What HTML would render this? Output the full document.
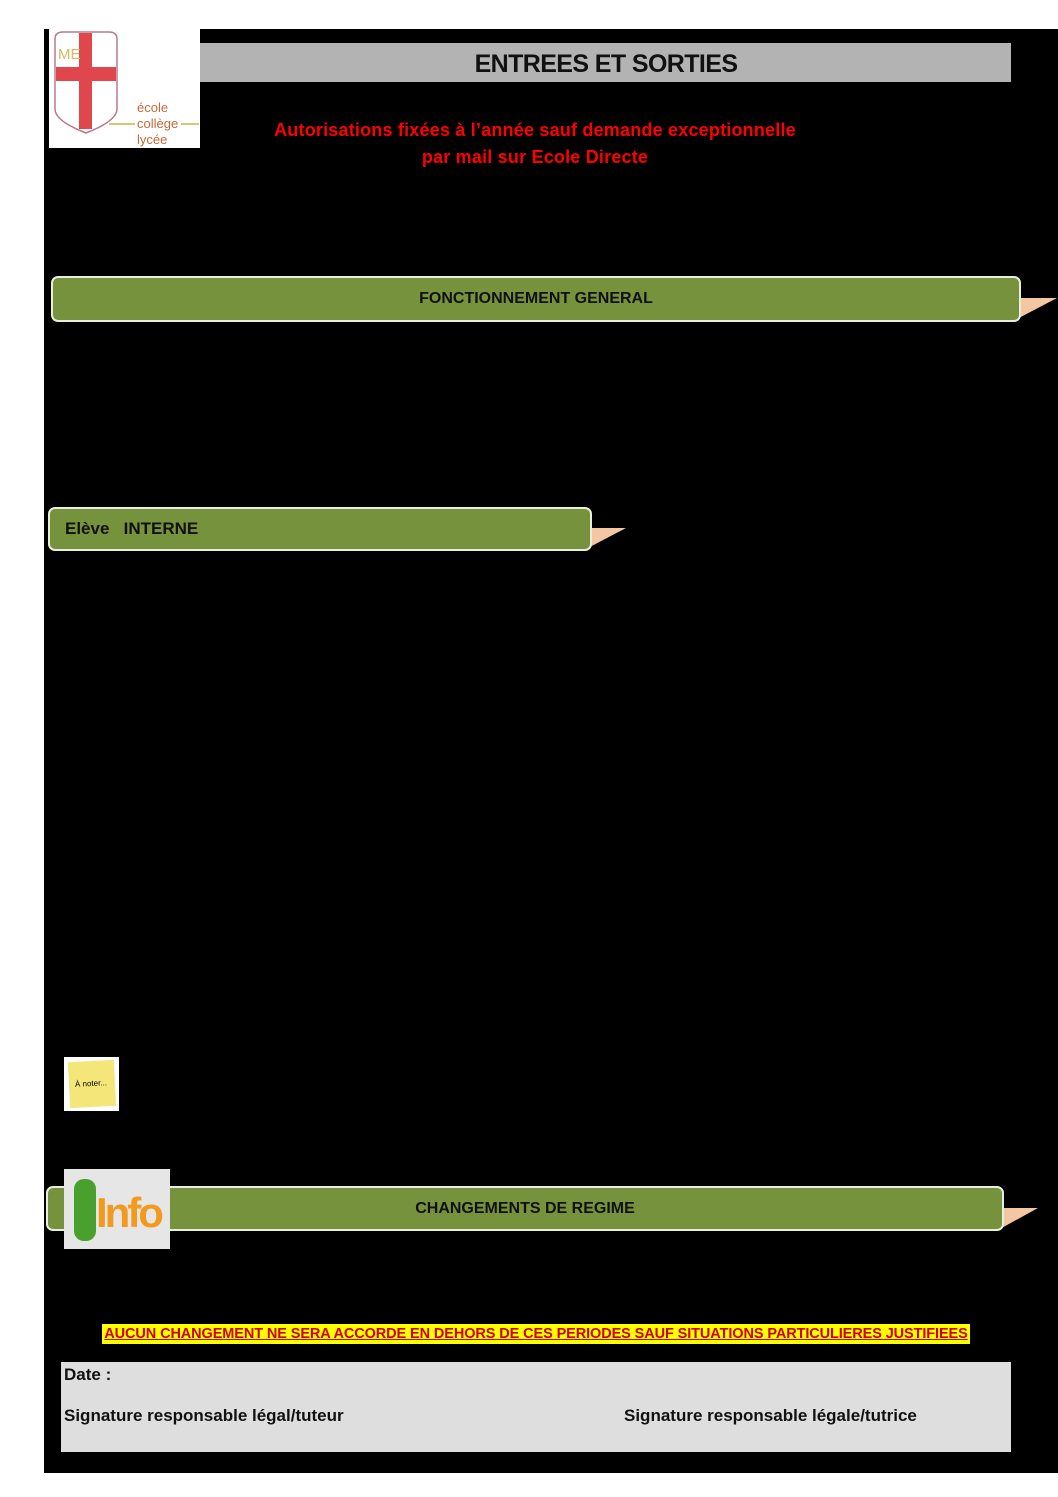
<!DOCTYPE html>
<html><head><meta charset="utf-8"><style>
body{margin:0;width:1058px;height:1497px;background:#fff;position:relative;overflow:hidden;font-family:"Liberation Sans",sans-serif}
div{position:absolute;box-sizing:border-box}
.bar{background:#76923c;border:2px solid #e8eedc;border-radius:7px;font-weight:bold;font-size:16px;color:#111;display:flex;align-items:center}
</style></head><body>
<div style="left:44px;top:29px;width:1014px;height:1444px;background:#000"></div>
<div style="left:49px;top:29px;width:151px;height:119px;background:#fff">
 <svg width="151" height="119"><path d="M6 10 Q6 3 14 3 L60 3 Q68 3 68 10 L68 80 Q68 92 37 104 Q6 92 6 80Z" fill="#fff" stroke="#b57b8e" stroke-width="1.5"/>
 <rect x="30" y="4" width="13" height="96" fill="#e0474c"/><rect x="7" y="38" width="60" height="14" fill="#e0474c"/>
 <text x="9" y="30" font-size="15" fill="#d9b860">ME</text>
 <text x="88" y="83" font-size="13" fill="#c56a3b">école</text><text x="88" y="99" font-size="13" fill="#c56a3b">collège</text><text x="88" y="115" font-size="13" fill="#c56a3b">lycée</text>
 <line x1="60" y1="95" x2="86" y2="95" stroke="#d9c670" stroke-width="2"/><line x1="132" y1="95" x2="150" y2="95" stroke="#d9c670" stroke-width="2"/></svg>
</div>
<div style="left:200px;top:43px;width:811px;height:39px;background:#b3b3b3"></div>
<div style="left:470px;top:45px;width:272px;height:38px;text-align:center;font-size:25px;font-weight:bold;line-height:38px;color:#111;white-space:nowrap;letter-spacing:-0.6px">ENTREES ET SORTIES</div>
<div style="left:200px;top:117px;width:670px;text-align:center;font-size:18px;font-weight:bold;color:#f00;line-height:27px;letter-spacing:0.2px">Autorisations fixées à l’année sauf demande exceptionnelle<br>par mail sur Ecole Directe</div>

<div style="left:1015px;top:298px;width:42px;height:22px;background:#f5c6a2;clip-path:polygon(0 0,100% 0,0 100%)"></div>
<div class="bar" style="left:51px;top:276px;width:970px;height:46px;justify-content:center">FONCTIONNEMENT GENERAL</div>

<div style="left:586px;top:528px;width:40px;height:21px;background:#f5c6a2;clip-path:polygon(0 0,100% 0,0 100%)"></div>
<div class="bar" style="left:48px;top:507px;width:544px;height:44px;padding-left:15px;font-size:17px">Elève&nbsp;&nbsp;&nbsp;INTERNE</div>

<div style="left:64px;top:1057px;width:55px;height:54px;background:#fff"><div style="left:5px;top:4px;width:46px;height:46px;background:#f5e67a;transform:rotate(-3deg);font-size:8px;padding:18px 0 0 6px">À noter...</div></div>

<div style="left:998px;top:1208px;width:40px;height:22px;background:#f5c6a2;clip-path:polygon(0 0,100% 0,0 100%)"></div>
<div class="bar" style="left:46px;top:1186px;width:958px;height:45px;justify-content:center">CHANGEMENTS DE REGIME</div>
<div style="left:64px;top:1169px;width:106px;height:80px;background:#e6e6e6"><span style="position:absolute;left:32px;top:20px;font-size:42px;font-weight:bold;color:#f39a1e;letter-spacing:-3px">Info</span><div style="left:10px;top:10px;width:22px;height:62px;background:#4aa02c;border-radius:10px"></div></div>

<div style="left:102px;top:1324px;width:868px;height:20px;background:#ff0;color:#c00;font-size:14.5px;font-weight:bold;text-decoration:underline;text-align:center;line-height:20px;white-space:nowrap;letter-spacing:-0.1px;overflow:hidden">AUCUN CHANGEMENT NE SERA ACCORDE EN DEHORS DE CES PERIODES SAUF SITUATIONS PARTICULIERES JUSTIFIEES</div>
<div style="left:61px;top:1362px;width:950px;height:90px;background:#dedede;font-weight:bold;font-size:17px;color:#111">
 <div style="left:3px;top:3px">Date :</div>
 <div style="left:3px;top:44px">Signature responsable légal/tuteur</div>
 <div style="left:563px;top:44px">Signature responsable légale/tutrice</div>
</div>
</body></html>
